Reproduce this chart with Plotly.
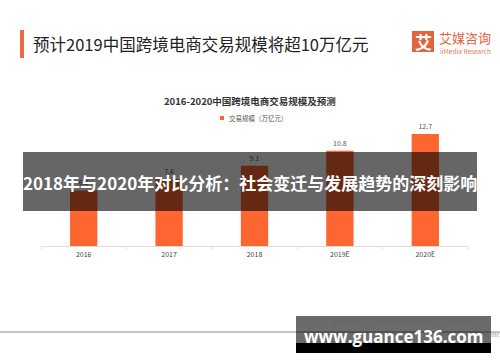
import plotly.graph_objects as go

W, H = 500, 362
def X(px): return px / W
def Y(py): return 1 - py / H

categories = ["2016", "2017", "2018", "2019E", "2020E"]
values = [6.3, 7.6, 9.1, 10.8, 12.7]
value_labels = ["6.3", "7.6", "9.1", "10.8", "12.7"]

CJK = "Noto Sans CJK SC"
ORANGE = "#fd6531"

fig = go.Figure()
fig.add_trace(go.Bar(
    x=categories, y=values, text=value_labels, textposition="outside",
    texttemplate="%{text}",
    textfont=dict(size=7, color="#555555", family=CJK),
    marker=dict(color=ORANGE, line=dict(width=0)),
    cliponaxis=False, showlegend=False, hoverinfo="skip",
))

fig.update_layout(
    width=W, height=H, margin=dict(l=0, r=0, t=0, b=0),
    paper_bgcolor="white", plot_bgcolor="white",
    bargap=0.68,
    xaxis=dict(domain=[X(41), X(468)], range=[-0.5, 4.5], autorange=False,
               showline=True, linecolor="#dddddd", linewidth=1,
               ticks="outside", tickson="boundaries", ticklen=3, tickcolor="#e2e2e2",
               ticklabelstandoff=2,
               tickfont=dict(size=7, color="#444444", family=CJK), showgrid=False,
               fixedrange=True),
    yaxis=dict(domain=[Y(246), Y(122.5)], range=[0, 14], autorange=False,
               visible=False, showgrid=False, fixedrange=True),
    font=dict(family=CJK),
)

shapes = []
annotations = []

def ann(**kw):
    d = dict(xref="paper", yref="paper", showarrow=False)
    d.update(kw)
    annotations.append(d)

def rect(x0, x1, y0, y1, fill, layer="below"):
    shapes.append(dict(type="rect", xref="paper", yref="paper", x0=X(x0), x1=X(x1),
                       y0=Y(y1), y1=Y(y0), fillcolor=fill, line=dict(width=0), layer=layer))

# header accent bar
rect(20, 24, 30, 58, "#ea6a42")
ann(text="预计2019中国跨境电商交易规模将超10万亿元", x=X(31), y=Y(44),
    xanchor="left", yanchor="middle", font=dict(size=16.5, color="#222222", family=CJK))
# logo
rect(412, 434, 31, 52, "#e3633c")
ann(text="<b>艾</b>", x=X(423), y=Y(41.5), xanchor="center", yanchor="middle",
    font=dict(size=17, color="white", family=CJK))
ann(text="艾媒咨询", x=X(437), y=Y(38), xanchor="left", yanchor="middle",
    font=dict(size=13, color="#e3633c", family=CJK))
ann(text="iiMedia Research", x=X(438), y=Y(51), xanchor="left", yanchor="middle",
    font=dict(size=6.5, color="#d9825f", family=CJK))

# chart title and legend
ann(text="<b>2016-2020中国跨境电商交易规模及预测</b>", x=X(250), y=Y(101),
    xanchor="center", yanchor="middle", font=dict(size=9.5, color="#333333", family=CJK))
rect(220, 224, 116, 120, ORANGE)
ann(text="交易规模（万亿元）", x=X(227), y=Y(118), xanchor="left", yanchor="middle",
    font=dict(size=6.5, color="#555555", family=CJK))

# bottom separator line and source
shapes.append(dict(type="line", xref="paper", yref="paper", x0=0, x1=1, y0=Y(332), y1=Y(332),
                   line=dict(color="#c9c5c9", width=2), layer="below"))
ann(text="数据来源：iiMedia Research（艾媒咨询）", x=X(485), y=Y(320),
    xanchor="right", yanchor="middle", font=dict(size=8, color="#666666", family=CJK))
ann(text="Inc", x=X(489), y=Y(334), xanchor="left", yanchor="middle",
    font=dict(size=6, color="#999999", family=CJK))

# overlay banner
rect(23, 477, 152, 211, "rgba(0,0,0,0.6)", layer="above")
ann(text="<b>2018年与2020年对比分析：社会变迁与发展趋势的深刻影响</b>", x=X(250), y=Y(182),
    xanchor="center", yanchor="middle", font=dict(size=17, color="white", family=CJK))

# watermark box
rect(296, 491, 316, 343, "rgba(0,0,0,0.58)", layer="above")
rect(296, 491, 343, 353, "black", layer="above")
ann(text="<b>www.guance136.com</b>", x=X(393), y=Y(336), xanchor="center", yanchor="middle",
    font=dict(size=17, color="white", family="Open Sans"))

fig.update_layout(shapes=shapes, annotations=annotations)
fig.write_html("out.html", config={"displayModeBar": False, "staticPlot": True},
               post_script="document.body.style.margin='0';document.body.style.padding='0';")
